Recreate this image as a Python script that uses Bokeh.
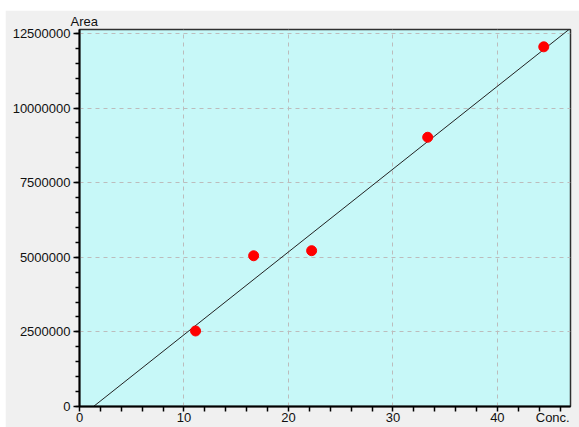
from bokeh.plotting import figure
from bokeh.models import Range1d, FixedTicker
from bokeh.embed import file_html
from bokeh.resources import INLINE

# Calibration standards: concentration vs. peak area
conc = [11.11, 16.67, 22.22, 33.33, 44.44]
area = [2530000, 5050000, 5220000, 9020000, 12050000]

# Calibration curve (linear fit) coefficients
FIT_SLOPE = 277500.0
FIT_INTERCEPT = -372000.0

# Axis extents and ticks
X_MAX = 47.0
Y_MAX = 12630000
X_TICKS = [0, 10, 20, 30, 40]
X_TICK_LABELS = ["0", "10", "20", "30", "40"]
X_MINOR = [2, 4, 6, 8, 12, 14, 16, 18, 22, 24, 26, 28, 32, 34, 36, 38, 42, 44, 46]
X_TITLE = "Conc."
X_TITLE_POS = 45.3
Y_TICKS = [0, 2500000, 5000000, 7500000, 10000000, 12500000]
Y_TICK_LABELS = ["0", "2500000", "5000000", "7500000", "10000000", "12500000"]
Y_MINOR = [i * 500000 for i in range(26)]
Y_TITLE = "Area"

FONT = "Liberation Sans"
TEXT_COLOR = "#111111"

p = figure(
    width=574, height=417, margin=(10, 0, 0, 5),
    x_range=Range1d(0, X_MAX), y_range=Range1d(0, Y_MAX),
    output_backend="svg", toolbar_location=None,
    min_border_left=74, min_border_right=9, min_border_top=19, min_border_bottom=21,
)
p.background_fill_color = "#c7f8f8"
p.border_fill_color = "#f0f0f0"
p.outline_line_color = "#303030"
p.outline_line_width = 1.5

# y-axis title sits above the axis, as the plot title
p.title.text = Y_TITLE
p.title.align = "left"
p.title.offset = -9
p.title.standoff = 1
p.title.text_font = FONT
p.title.text_font_size = "13px"
p.title.text_font_style = "normal"
p.title.text_color = TEXT_COLOR

# grid
for g in (p.xgrid, p.ygrid):
    g.grid_line_color = "#bcbcbc"
    g.grid_line_dash = "4 4"
    g.grid_line_width = 1
p.xgrid.ticker = FixedTicker(ticks=X_TICKS)
p.ygrid.ticker = FixedTicker(ticks=Y_TICKS)

# axes
for ax in (p.xaxis, p.yaxis):
    ax.axis_line_color = "#000000"
    ax.axis_line_width = 2
    ax.major_tick_line_color = "#000000"
    ax.minor_tick_line_color = "#000000"
    ax.major_tick_line_width = 1.5
    ax.minor_tick_line_width = 1.5
    ax.major_tick_in = 0
    ax.minor_tick_in = 0
    ax.major_label_text_font = FONT
    ax.major_label_text_font_size = "13px"
    ax.major_label_text_color = TEXT_COLOR

p.yaxis.ticker = FixedTicker(ticks=Y_TICKS, minor_ticks=Y_MINOR)
p.yaxis.major_label_overrides = {t: s for t, s in zip(Y_TICKS, Y_TICK_LABELS)}
p.yaxis.major_tick_out = 6
p.yaxis.minor_tick_out = 4
p.yaxis.major_label_standoff = 3

# x axis: the "Conc." title rides along as an extra tick label at the right end;
# tick marks are all drawn through the minor-tick list so that slot gets no mark
x_label_pos = X_TICKS + [X_TITLE_POS]
x_label_txt = X_TICK_LABELS + [X_TITLE]
p.xaxis.ticker = FixedTicker(ticks=x_label_pos, minor_ticks=sorted(X_TICKS + X_MINOR))
p.xaxis.major_label_overrides = {t: s for t, s in zip(x_label_pos, x_label_txt)}
p.xaxis.major_tick_line_color = None
p.xaxis.major_tick_out = 0
p.xaxis.minor_tick_out = 5
p.xaxis.major_label_standoff = -2

# fitted calibration line, clipped by the frame
x0 = -FIT_INTERCEPT / FIT_SLOPE
xs = [x0, X_MAX]
ys = [FIT_SLOPE * x + FIT_INTERCEPT for x in xs]
p.line(xs, ys, line_color="#222222", line_width=1)

# standards
p.scatter(conc, area, marker="circle", size=10, fill_color="#ff0000", line_color="#ff0000")

open("out.html", "w").write(file_html(p, INLINE))
